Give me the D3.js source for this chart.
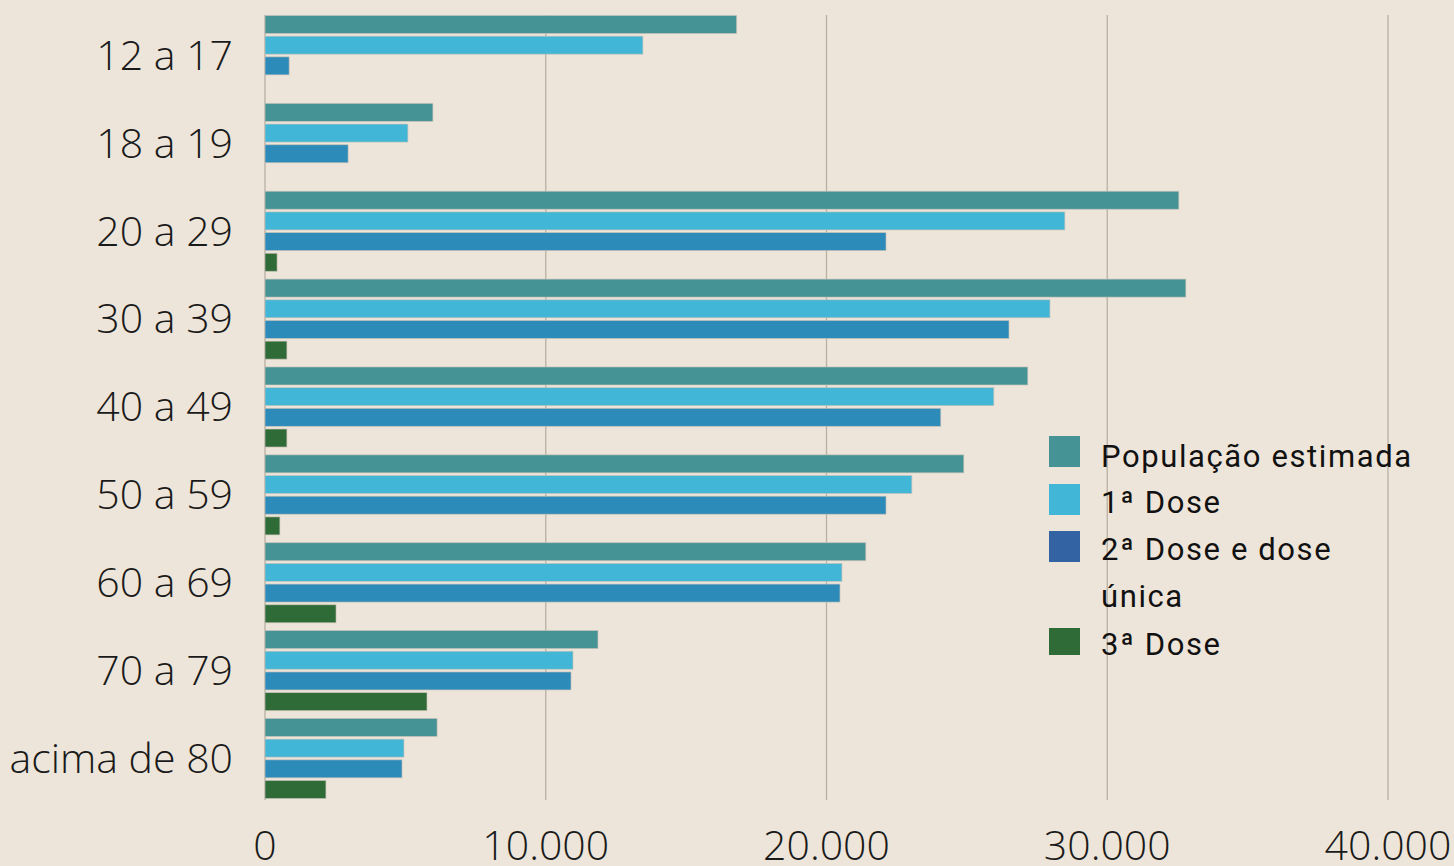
<!DOCTYPE html>
<html>
<head>
<meta charset="utf-8">
<script src="https://cdn.jsdelivr.net/npm/d3@7"></script>
<style>
html,body{margin:0;padding:0;background:#EDE5D9;}
svg{display:block;}
</style>
</head>
<body>
<svg id="chart" width="1454" height="866"></svg>
<script>
const categories = ["12 a 17","18 a 19","20 a 29","30 a 39","40 a 49","50 a 59","60 a 69","70 a 79","acima de 80"];
const seriesNames = ["População estimada","1ª Dose","2ª Dose e dose única","3ª Dose"];
const populacao = [16800, 5980, 32550, 32800, 27170, 24890, 21400, 11860, 6130];
const dose1 =     [13460, 5090, 28490, 27960, 25960, 23040, 20550, 10970, 4950];
const dose2 =     [860, 2960, 22120, 26500, 24070, 22120, 20480, 10900, 4880];
const dose3 =     [0, 0, 430, 780, 780, 530, 2530, 5770, 2170];
const xTicks = [0, 10000, 20000, 30000, 40000];
const tickLabels = ["0","10.000","20.000","30.000","40.000"];
const barColors = ["#469396","#42B6D6","#2D8BBA","#2E6B37"];
const legendColors = ["#469396","#42B6D6","#3363A3","#2E6B37"];

const seriesValues = [populacao, dose1, dose2, dose3];
const svg = d3.select("#chart");

const x = d3.scaleLinear().domain([0, 40000]).range([265, 1388]);
const y0 = d3.scaleBand().domain(categories).range([15.5, 798.5]).paddingInner(0.089).paddingOuter(0);
const y1 = d3.scaleBand().domain(seriesNames).range([0, y0.bandwidth()]).paddingInner(0.13);

// gridlines
svg.append("g").selectAll("line").data(xTicks).join("line")
  .attr("x1", d => x(d)).attr("x2", d => x(d))
  .attr("y1", 15).attr("y2", 800)
  .attr("stroke", "#B8B0A4").attr("stroke-width", 1.3);

// bars
const groups = svg.append("g").selectAll("g").data(categories).join("g")
  .attr("transform", c => `translate(0,${y0(c)})`);
groups.selectAll("rect").data((c, i) => seriesNames.map((s, j) => ({s, j, v: seriesValues[j][i]})))
  .join("rect")
  .attr("x", x(0))
  .attr("y", d => y1(d.s))
  .attr("width", d => x(d.v) - x(0))
  .attr("height", y1.bandwidth())
  .attr("fill", d => barColors[d.j])
  .attr("stroke", "rgba(200,194,184,0.8)")
  .attr("stroke-width", 0.8);

// category labels
svg.append("g").selectAll("text").data(categories).join("text")
  .attr("x", 233)
  .attr("y", c => y0(c) + y0.bandwidth() / 2)
  .attr("dy", "0.35em")
  .attr("text-anchor", "end")
  .attr("font-family", "'Open Sans', sans-serif")
  .attr("font-weight", 300)
  .attr("font-size", 41)
  .attr("fill", "#1a1a1a")
  .text(c => c);

// x tick labels
svg.append("g").selectAll("text").data(xTicks).join("text")
  .attr("x", d => x(d))
  .attr("y", 860)
  .attr("text-anchor", "middle")
  .attr("font-family", "'Open Sans', sans-serif")
  .attr("font-weight", 300)
  .attr("font-size", 41)
  .attr("fill", "#1a1a1a")
  .text((d, i) => tickLabels[i]);

// legend
const legendItems = [
  {lines: ["População estimada"], sq: 436, base: [467]},
  {lines: ["1ª Dose"], sq: 484, base: [513]},
  {lines: ["2ª Dose e dose", "única"], sq: 531, base: [560, 607]},
  {lines: ["3ª Dose"], sq: 628, base: [655]}
];
const lg = svg.append("g");
legendItems.forEach((it, i) => {
  lg.append("rect").attr("x", 1049).attr("y", it.sq)
    .attr("width", 31).attr("height", i === 3 ? 27 : 31)
    .attr("fill", legendColors[i]);
  it.lines.forEach((ln, k) => {
    lg.append("text").attr("x", 1101).attr("y", it.base[k])
      .attr("font-family", "'Roboto', sans-serif")
      .attr("font-size", 31)
      .attr("letter-spacing", 1.6)
      .attr("fill", "#111")
      .text(ln);
  });
});
</script>
</body>
</html>
